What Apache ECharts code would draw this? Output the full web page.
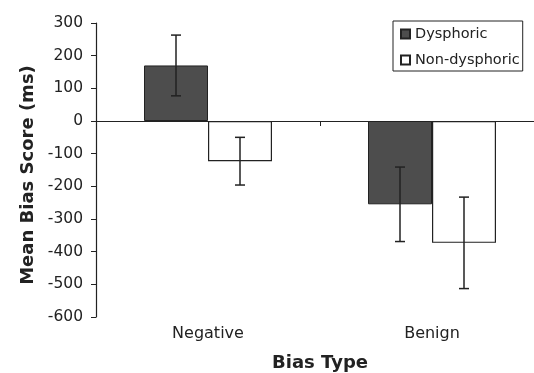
<!DOCTYPE html>
<html>
<head>
<meta charset="utf-8">
<script src="https://cdn.jsdelivr.net/npm/echarts@6/dist/echarts.min.js"></script>
<style>
  html, body { margin: 0; padding: 0; background: #fff; }
  #main { width: 534px; height: 373px; }
</style>
</head>
<body>
<div id="main"></div>
<script>
// data
var categories = ['Negative', 'Benign'];
var dysphoric = [170, -255];
var dysphoricErr = [93, 114];
var nonDysphoric = [-123, -373];
var nonDysphoricErr = [73, 140];
var yTicks = { min: -600, max: 300, step: 100 };

var font = 'DejaVu Sans';
var ink = '#222';
var barW = 64;

var myChart = echarts.init(document.getElementById('main'));

// error bar drawn around bar centre; shift = pixel offset from category centre
function errorBars(values, errs, shift) {
    var data = values.map(function (v, i) { return [i, v, errs[i]]; });
    return {
        type: 'custom',
        xAxisIndex: 0,
        silent: true,
        z: 5,
        data: data,
        renderItem: function (params, api) {
            var i = api.value(0), v = api.value(1), e = api.value(2);
            var hi = api.coord([i, v + e]);
            var lo = api.coord([i, v - e]);
            var x = hi[0] + shift;
            var cap = 5;
            var st = { stroke: ink, lineWidth: 1.5 };
            return {
                type: 'group',
                children: [
                    { type: 'line', shape: { x1: x, y1: hi[1], x2: x, y2: lo[1] }, style: st },
                    { type: 'line', shape: { x1: x - cap, y1: hi[1], x2: x + cap, y2: hi[1] }, style: st },
                    { type: 'line', shape: { x1: x - cap, y1: lo[1], x2: x + cap, y2: lo[1] }, style: st }
                ]
            };
        }
    };
}

var option = {
    animation: false,
    textStyle: { fontFamily: font, color: ink },
    // plot runs a little past the right edge, like the original
    grid: { left: 96, top: 23, width: 448, bottom: 56, outerBoundsMode: 'none' },
    legend: {
        orient: 'vertical',
        left: 393,
        top: 21,
        padding: [5, 3, 3, 7],
        borderColor: ink,
        borderWidth: 1,
        itemWidth: 9,
        itemHeight: 9,
        itemGap: 10,
        icon: 'rect',
        textStyle: { fontFamily: font, fontSize: 14.5, color: ink, lineHeight: 16 },
        data: ['Dysphoric', 'Non-dysphoric']
    },
    xAxis: [
        {
            // labels + title at the bottom
            type: 'category',
            data: categories,
            position: 'bottom',
            axisLine: { show: false, onZero: false },
            axisTick: { show: false },
            axisLabel: { fontFamily: font, fontSize: 16, color: ink, margin: 9 },
            name: 'Bias Type',
            nameLocation: 'middle',
            nameGap: 37,
            nameTextStyle: { fontFamily: font, fontSize: 18, fontWeight: 'bold', color: ink }
        },
        {
            // the line through zero
            type: 'category',
            data: categories,
            position: 'bottom',
            axisLine: { show: true, onZero: true, lineStyle: { color: ink, width: 1.2 } },
            axisTick: { show: true, length: 5, lineStyle: { color: ink } },
            axisLabel: { show: false }
        }
    ],
    yAxis: {
        type: 'value',
        min: yTicks.min,
        max: yTicks.max,
        interval: yTicks.step,
        axisLine: { show: true, lineStyle: { color: ink, width: 1.2 } },
        axisTick: { show: true, length: 5, lineStyle: { color: ink } },
        splitLine: { show: false },
        axisLabel: { fontFamily: font, fontSize: 15.5, color: ink, margin: 13 },
        name: 'Mean Bias Score (ms)',
        nameLocation: 'middle',
        nameRotate: 90,
        nameGap: 58,
        nameTextStyle: { fontFamily: font, fontSize: 18, fontWeight: 'bold', color: ink, padding: [0, 10, 0, 0] }
    },
    series: [
        {
            name: 'Dysphoric',
            type: 'bar',
            barWidth: barW,
            barGap: '0%',
            data: dysphoric,
            itemStyle: { color: '#4d4d4d', borderColor: ink, borderWidth: 1 }
        },
        {
            name: 'Non-dysphoric',
            type: 'bar',
            barWidth: barW,
            barGap: '0%',
            data: nonDysphoric,
            itemStyle: { color: '#fff', borderColor: ink, borderWidth: 1.2 }
        },
        errorBars(dysphoric, dysphoricErr, -barW / 2),
        errorBars(nonDysphoric, nonDysphoricErr, barW / 2)
    ]
};

myChart.setOption(option);
</script>
</body>
</html>
